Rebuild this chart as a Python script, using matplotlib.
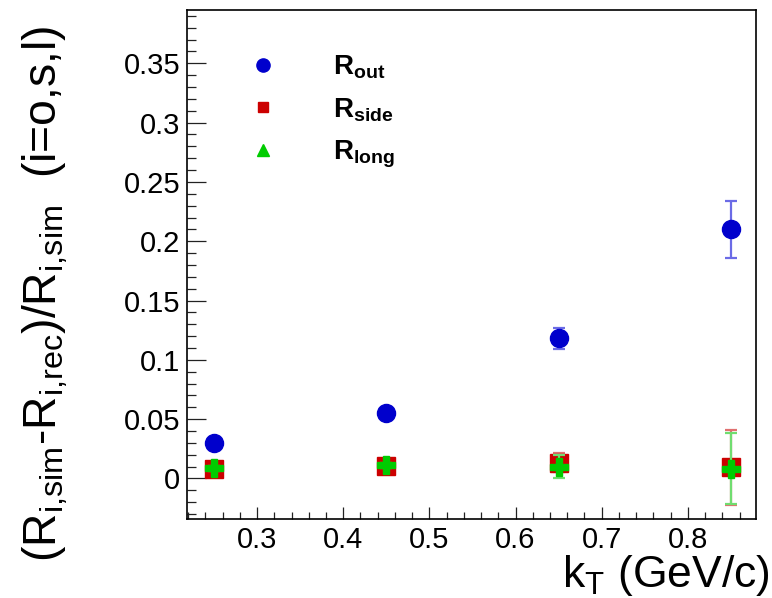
import numpy as np
import matplotlib
matplotlib.use('Agg')
import matplotlib.pyplot as plt
from matplotlib.lines import Line2D
from matplotlib.ticker import MultipleLocator

plt.rcParams['font.family'] = ['Liberation Sans', 'DejaVu Sans']
plt.rcParams['mathtext.fontset'] = 'custom'
plt.rcParams['mathtext.rm'] = 'Liberation Sans'
plt.rcParams['mathtext.bf'] = 'Liberation Sans:bold'
plt.rcParams['mathtext.it'] = 'Liberation Sans:italic'

# data
kt = [0.25, 0.45, 0.65, 0.85]
r_out = [0.030, 0.055, 0.118, 0.210]
r_out_err = [0.002, 0.003, 0.009, 0.024]
r_side = [0.0075, 0.0105, 0.013, 0.0092]
r_side_err = [0.002, 0.002, 0.008, 0.0315]
r_long = [0.0085, 0.011, 0.010, 0.0082]
r_long_err = [0.002, 0.002, 0.010, 0.030]
labels = ['R$_{\\bf out}$', 'R$_{\\bf side}$', 'R$_{\\bf long}$']

fig = plt.figure(figsize=(7.72, 5.98), dpi=100)
ax = fig.add_axes([0.2426, 0.1316, 0.7366, 0.8517])

ax.errorbar(kt, r_out, yerr=r_out_err, fmt='o', color='#0000cc', ms=13,
            ecolor='#6b6be6', elinewidth=1.6, capsize=4, capthick=1.6, zorder=3)
ax.errorbar(kt, r_side, yerr=r_side_err, fmt='s', color='#cc0000', ms=13,
            ecolor='#e07070', elinewidth=1.6, capsize=4, capthick=1.6, zorder=4)
ax.errorbar(kt, r_long, yerr=r_long_err, fmt='P', color='#00cc00', ms=13,
            ecolor='#70dd70', elinewidth=1.6, capsize=4, capthick=1.6, zorder=5)

ax.set_xlim(0.219, 0.879)
ax.set_ylim(-0.0345, 0.395)

ax.xaxis.set_major_locator(MultipleLocator(0.1))
ax.xaxis.set_minor_locator(MultipleLocator(0.02))
ax.yaxis.set_major_locator(MultipleLocator(0.05))
ax.yaxis.set_minor_locator(MultipleLocator(0.01))
ax.xaxis.set_major_formatter(plt.FuncFormatter(lambda v, p: ('%g' % round(v, 3))))
ax.yaxis.set_major_formatter(plt.FuncFormatter(lambda v, p: ('%g' % round(v, 3))))

ax.tick_params(axis='both', which='both', direction='in', top=False, right=False,
               labelsize=21, width=0.9, color='#222222', pad=5)
ax.tick_params(axis='y', which='major', length=13.5)
ax.tick_params(axis='y', which='minor', length=6.5)
ax.tick_params(axis='x', which='major', length=9)
ax.tick_params(axis='x', which='minor', length=4.8)
for s in ax.spines.values():
    s.set_linewidth(1.2)

ax.set_ylabel('(R$_{\\rm i{,}sim}$-R$_{\\rm i{,}rec}$)/R$_{\\rm i{,}sim}$  (i=o,s,l)',
              fontsize=33.3, loc='top')
ax.yaxis.set_label_coords(-0.207, 0.97)
ax.set_xlabel('k$_{\\rm T}$ (GeV/c)', fontsize=32, ha='right')
ax.xaxis.set_label_coords(1.0246, -0.066)

handles = [Line2D([], [], ls='none', marker='o', color='#0000cc', ms=9.5),
           Line2D([], [], ls='none', marker='s', color='#cc0000', ms=6.5),
           Line2D([], [], ls='none', marker='^', color='#00cc00', ms=9)]
leg = ax.legend(handles, labels, loc='upper left', bbox_to_anchor=(0.109, 0.915),
                frameon=False, fontsize=20, handlelength=1.0, handletextpad=2.0,
                labelspacing=0.55, borderpad=0, borderaxespad=0)
for t in leg.get_texts():
    t.set_fontweight('bold')

fig.savefig('out.png', dpi=100)
